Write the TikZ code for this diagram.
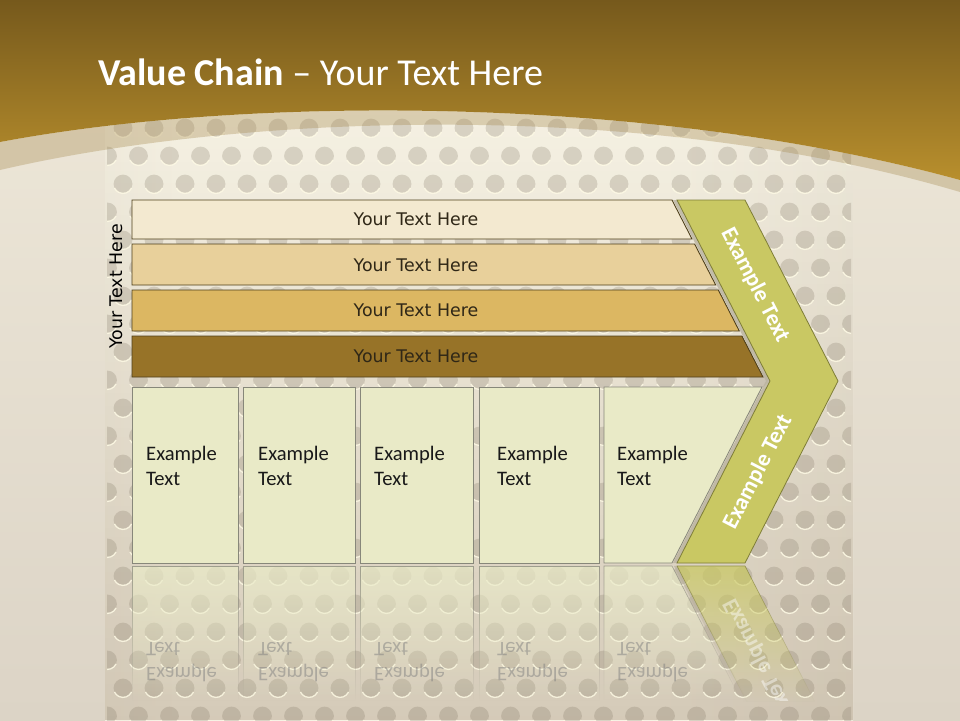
\documentclass[tikz,border=0pt]{standalone}
\usepackage{fontspec}
\setmainfont{Carlito}
\newfontfamily\dejavu{DejaVu Sans}
\usetikzlibrary{fadings}
\definecolor{goldtop}{HTML}{76591C}
\definecolor{goldbot}{HTML}{B88F2D}
\definecolor{bandc}{HTML}{A88C52}
\definecolor{bgtop}{HTML}{EFE9DA}
\definecolor{bgbot}{HTML}{DCD4C6}
\definecolor{panedge}{HTML}{D0C8B8}
\definecolor{panmid}{HTML}{F6F2E4}
\definecolor{dotc}{HTML}{7D7260}
\definecolor{dothi}{HTML}{FFFBE6}
\definecolor{barA}{HTML}{F3E9D0}
\definecolor{barB}{HTML}{E8D09B}
\definecolor{barC}{HTML}{DCB762}
\definecolor{barD}{HTML}{977328}
\definecolor{barline}{HTML}{4E3F1A}
\definecolor{bartext}{HTML}{2F2717}
\definecolor{boxfill}{HTML}{E9EAC7}
\definecolor{boxline}{HTML}{87877A}
\definecolor{chevfill}{HTML}{C9C863}
\definecolor{chevline}{HTML}{7F7E38}
\definecolor{shadowc}{HTML}{B9B29E}
\tikzfading[name=reflfade, top color=transparent!25, bottom color=transparent!100]
\tikzfading[name=panfade, top color=transparent!100, bottom color=transparent!0]
\pgfdeclarehorizontalshading{panelsh}{100bp}{color(0bp)=(panedge); color(4bp)=(panedge!55!panmid); color(30bp)=(panmid); color(62bp)=(panmid); color(96bp)=(panedge!55!panmid); color(100bp)=(panedge)}
\begin{document}
\begin{tikzpicture}[x=1pt,y=-1pt,
  bar/.style={draw=barline, line width=0.9pt},
  bartxt/.style={font=\dejavu\fontsize{17.4}{20}\selectfont, text=bartext, inner sep=0pt},
  box/.style={fill=boxfill, draw=boxline, line width=0.8pt},
  boxtxt/.style={font=\fontsize{20.6}{25}\selectfont, align=left, anchor=west, inner sep=0pt, text=black!90},
  chev/.style={fill=chevfill, draw=chevline, line width=0.8pt},
  chevtxt/.style={font=\bfseries\fontsize{23}{26}\selectfont, text=white, inner sep=0pt},
  refl/.style={fill=boxfill, draw=boxline, line width=0.6pt, path fading=reflfade, fit fading=true},
  refltxt/.style={boxtxt, text=black!50, opacity=0.5, yscale=-1},
]
\useasboundingbox (0,0) rectangle (960,720);
% background
\shade[top color=bgtop, bottom color=bgbot] (0,0) rectangle (960,720);
\shade[shading=panelsh] (105,100) rectangle (853,720);
\fill[black!50!brown, opacity=0.22, path fading=panfade, fit fading=true] (105,100) rectangle (853,720);
% dots
\begin{scope}
\clip (107,100) rectangle (851,720);
\foreach \r in {-1,...,21} {
  \pgfmathsetmacro\yy{128+28*\r}
  \pgfmathsetmacro\xo{mod(\r,2)==0 ? 123 : 138.5}
  \foreach \c in {-1,...,24} {
    \pgfmathsetmacro\xx{\xo+31*\c}
    \fill[dotc, opacity=0.24] (\xx,\yy) circle (9.4pt);
    \draw[dothi, opacity=0.85, line width=1.3pt] (\xx,\yy) ++(25:9.4) arc (25:155:9.4);
  }
}
\end{scope}
% swoosh band and gold header
\fill[bandc, opacity=0.35] (0,142) .. controls (250,95) and (650,95) .. (960,180) -- (960,192) .. controls (650,100) and (250,112) .. (0,170) -- cycle;
\shade[top color=goldtop, bottom color=goldbot] (0,0) -- (960,0) -- (960,180) .. controls (650,95) and (250,95) .. (0,142) -- cycle;
\node[anchor=base west, text=white, inner sep=0pt, font=\fontsize{38}{42}\selectfont] (title) at (98,85) {\textbf{Value Chain} – Your Text Here};
% bars
\path[bar, fill=barA] (132,200) -- (672,200) -- (692,239) -- (132,239) -- cycle;
\path[bar, fill=barB] (132,244) -- (694.6,244) -- (715.7,285) -- (132,285) -- cycle;
\path[bar, fill=barC] (132,290) -- (718.3,290) -- (739.3,331) -- (132,331) -- cycle;
\path[bar, fill=barD] (132,336) -- (741.9,336) -- (763,377) -- (132,377) -- cycle;
\node[bartxt] (b1) at (416,219) {Your Text Here};
\node[bartxt] (b2) at (416,265.5) {Your Text Here};
\node[bartxt] (b3) at (416,310.5) {Your Text Here};
\node[bartxt] (b4) at (416,356.5) {Your Text Here};
\node[bartxt, text=black, rotate=90] (side) at (116,286.5) {Your Text Here};
% reflections
\path[refl] (132,566) rectangle (238,700);
\path[refl] (243,566) rectangle (355,700);
\path[refl] (360,566) rectangle (473,700);
\path[refl] (479,566) rectangle (599,700);
\path[refl] (604,566) -- (672,566) -- (741,700) -- (604,700) -- cycle;
\path[fill=shadowc, path fading=reflfade, fit fading=true] (674,566) -- (678,566) -- (747.9,702) -- (743.9,702) -- cycle;
\path[fill=chevfill, draw=chevline, line width=0.6pt, path fading=reflfade, fit fading=true] (677,566) -- (745,566) -- (814.9,702) -- (746.9,702) -- cycle;
\node[refltxt] (r1) at (146,662.5) {Example\\Text};
\node[refltxt] (r2) at (258,662.5) {Example\\Text};
\node[refltxt] (r3) at (374,662.5) {Example\\Text};
\node[refltxt] (r4) at (497,662.5) {Example\\Text};
\node[refltxt] (r5) at (617,662.5) {Example\\Text};
\begin{scope}
\clip (660,566) rectangle (860,700);
\node[chevtxt, opacity=0.45, rotate=-62.8, yscale=-1] (rc) at (758,656) {Example Text};
\end{scope}
% boxes
\path[box] (132,387) rectangle (238,563);
\path[box] (243,387) rectangle (355,563);
\path[box] (360,387) rectangle (473,563);
\path[box] (479,387) rectangle (599,563);
\path[box] (604,387) -- (762,387) -- (672,563) -- (604,563) -- cycle;
\node[boxtxt] (t1) at (146,465.5) {Example\\Text};
\node[boxtxt] (t2) at (258,465.5) {Example\\Text};
\node[boxtxt] (t3) at (374,465.5) {Example\\Text};
\node[boxtxt] (t4) at (497,465.5) {Example\\Text};
\node[boxtxt] (t5) at (617,465.5) {Example\\Text};
% chevron
\path[fill=shadowc, opacity=0.8] (673,200) -- (741,200) -- (834,381) -- (741,563) -- (673,563) -- (766,381) -- cycle;
\path[chev] (677,200) -- (745,200) -- (838,381) -- (745,563) -- (677,563) -- (770,381) -- cycle;
\node[chevtxt, rotate=-62.8] (c1) at (755,285) {Example Text};
\node[chevtxt, rotate=62.8] (c2) at (758,472) {Example Text};
\end{tikzpicture}
\end{document}
